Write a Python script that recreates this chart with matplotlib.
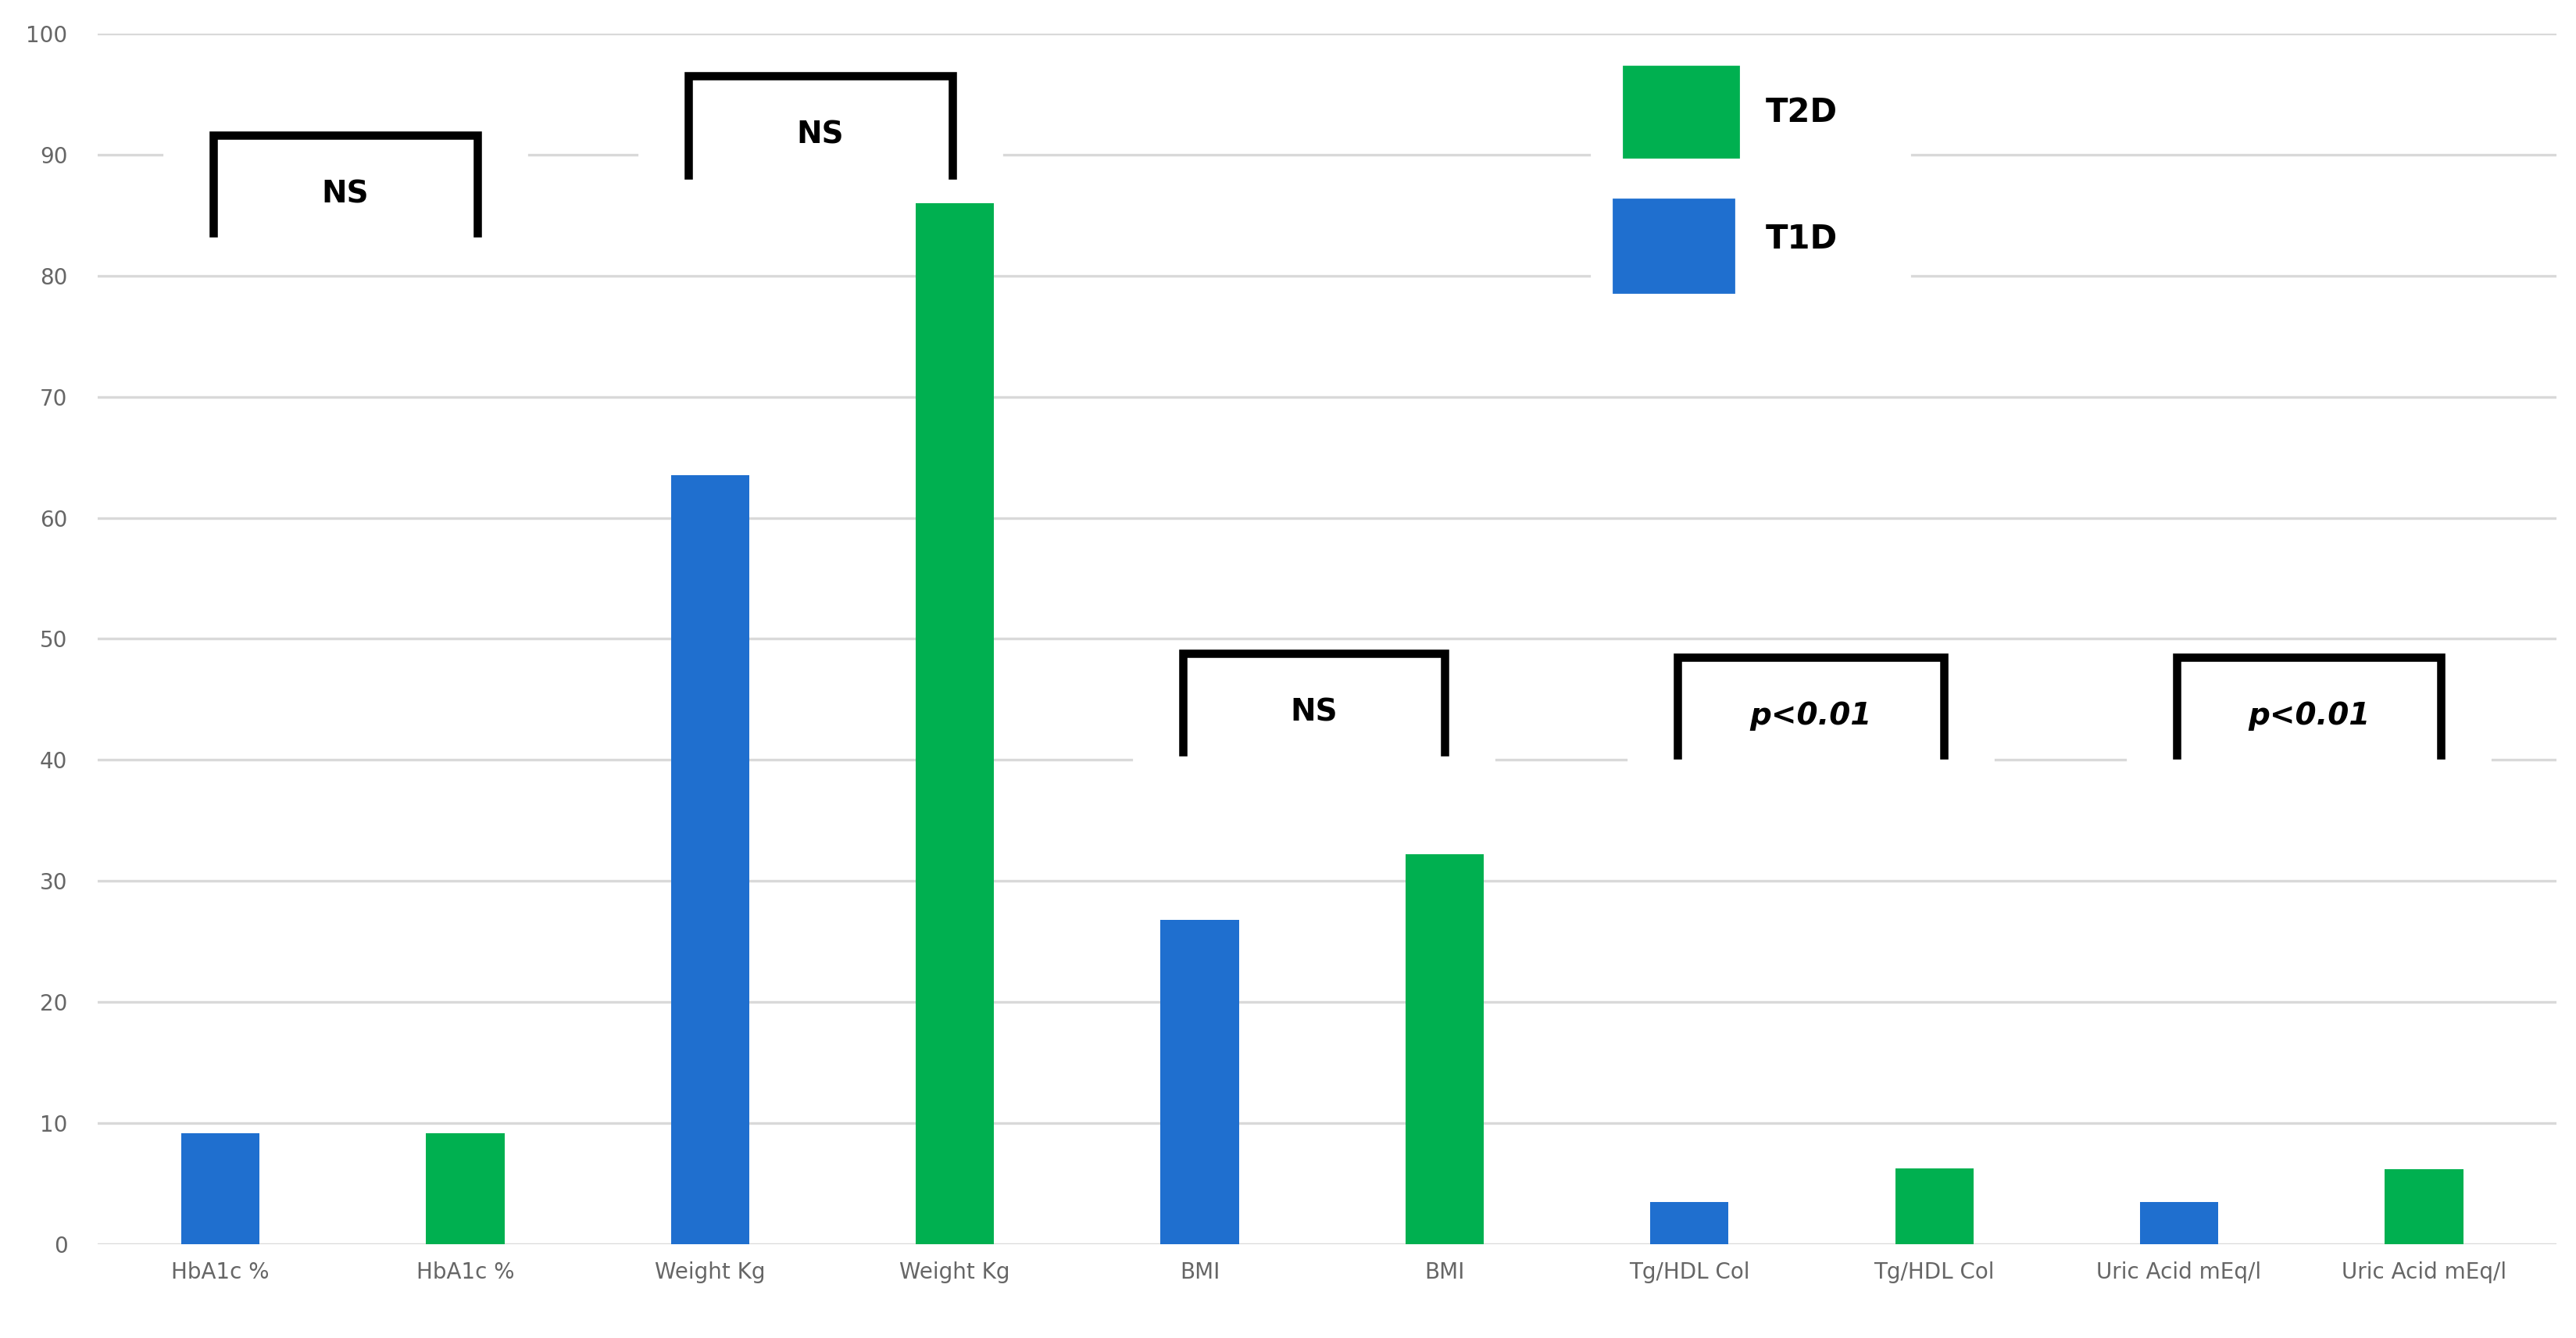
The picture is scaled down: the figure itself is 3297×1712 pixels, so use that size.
import matplotlib.pyplot as plt
from matplotlib.patches import Rectangle

labels = ["HbA1c %", "HbA1c %", "Weight Kg", "Weight Kg", "BMI", "BMI",
          "Tg/HDL Col", "Tg/HDL Col", "Uric Acid mEq/l", "Uric Acid mEq/l"]
values = [9.2, 9.2, 63.5, 86.0, 26.8, 32.2, 3.5, 6.3, 3.5, 6.2]
groups = ["T1D", "T2D"] * 5
colors = {"T1D": "#1f6fcf", "T2D": "#00b050"}

# brackets: (x left, x right, y top, y bottom, text, italic)
brackets = [
    (-0.03, 1.05, 91.6, 83.5, "NS", False),
    (1.91, 2.99, 96.5, 88.3, "NS", False),
    (3.93, 5.00, 48.8, 40.7, "NS", False),
    (5.95, 7.04, 48.5, 40.4, "p<0.01", True),
    (7.99, 9.07, 48.5, 40.4, "p<0.01", True),
]

fig = plt.figure(figsize=(16.49, 8.56), dpi=200)
ax = fig.add_axes([0.038, 0.070, 0.954, 0.905])
ax.set_axisbelow(True)
x = range(len(values))
ax.bar(x, values, width=0.32, color=[colors[g] for g in groups], zorder=3)
ax.set_xlim(-0.5, 9.54)
ax.set_ylim(0, 100)
ax.set_yticks(range(0, 101, 10))
ax.set_xticks(list(x))
ax.set_xticklabels(labels)
ax.grid(axis="y", color="#d9d9d9", linewidth=1.2)
for s in ax.spines.values():
    s.set_visible(False)
ax.tick_params(length=0, labelsize=10, labelcolor="#666666", pad=8)
ax.tick_params(axis="y", pad=14)

for x0, x1, yt, yb, txt, it in brackets:
    ax.add_patch(Rectangle((x0 - 0.2, yb - 1), x1 - x0 + 0.4, yt - yb + 2,
                           color="white", zorder=2, clip_on=False))
    ax.plot([x0, x0, x1, x1], [yb, yt, yt, yb], color="black", lw=3.8,
            zorder=4, clip_on=False, solid_joinstyle="miter")
    ax.text((x0 + x1) / 2, (yt + yb) / 2 - 0.8, txt, ha="center", va="center",
            fontsize=14, fontweight="bold", style="italic" if it else "normal",
            zorder=5)

ax.add_patch(Rectangle((5.73, 89.8), 0.47, 7.5, color=colors["T2D"], zorder=4, clip_on=False))
ax.add_patch(Rectangle((5.69, 78.6), 0.49, 7.7, color=colors["T1D"], zorder=4, clip_on=False))
ax.add_patch(Rectangle((5.6, 77.5), 1.3, 21, color="white", zorder=2, clip_on=False))
ax.text(6.31, 93.5, "T2D", fontsize=15, fontweight="bold", va="center", zorder=5)
ax.text(6.31, 83.0, "T1D", fontsize=15, fontweight="bold", va="center", zorder=5)

fig.savefig("out.png", dpi=200, facecolor="white")
